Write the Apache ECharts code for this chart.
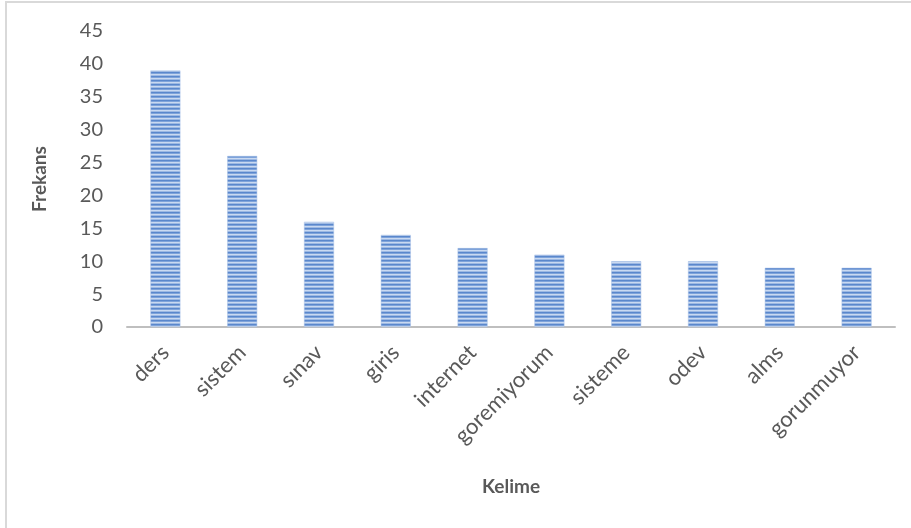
<!DOCTYPE html>
<html>
<head>
<meta charset="utf-8">
<script src="https://cdn.jsdelivr.net/npm/echarts@6/dist/echarts.min.js"></script>
<style>
  html, body { margin: 0; padding: 0; background: #fff; }
  #frame { position: absolute; left: 5px; top: 1px; width: 920px; height: 540px;
           border-left: 2px solid #d9d9d9; border-top: 2px solid #d9d9d9; }
  #chart { position: absolute; left: 0; top: 0; width: 911px; height: 528px; }
</style>
</head>
<body>
<div id="frame"></div>
<div id="chart"></div>
<script>
const categories = ["ders", "sistem", "sınav", "giris", "internet", "goremiyorum", "sisteme", "odev", "alms", "gorunmuyor"];
const frequencies = [39, 26, 16, 14, 12, 11, 10, 10, 9, 9];

// horizontal stripes like the original fill
function stripePattern() {
  const c = document.createElement("canvas");
  c.width = 4;
  c.height = 4;
  const ctx = c.getContext("2d");
  const rows = ["#5a87cc", "#7ea3da", "#c9d9f1", "#9db9e3"];
  rows.forEach((col, i) => {
    ctx.fillStyle = col;
    ctx.fillRect(0, i, 4, 1);
  });
  return c;
}

const chart = echarts.init(document.getElementById("chart"), null, { renderer: "canvas" });
const labelFont = "Lato, 'Open Sans', sans-serif";

const option = {
  animation: false,
  textStyle: { fontFamily: labelFont },
  grid: { left: 127, right: 16, top: 31, bottom: 201 },
  xAxis: {
    type: "category",
    data: categories,
    name: "Kelime",
    nameLocation: "middle",
    nameGap: 150,
    nameTextStyle: { color: "#595959", fontSize: 19, fontWeight: "bold", fontFamily: labelFont },
    axisLine: { lineStyle: { color: "#bfbfbf", width: 2 } },
    axisTick: { show: false },
    axisLabel: { rotate: 45, color: "#595959", fontSize: 22, margin: 22, interval: 0, fontFamily: labelFont }
  },
  yAxis: {
    type: "value",
    min: 0,
    max: 45,
    interval: 5,
    name: "Frekans",
    nameLocation: "middle",
    nameGap: 78,
    nameTextStyle: { color: "#595959", fontSize: 19, fontWeight: "bold", fontFamily: labelFont },
    axisLine: { show: false },
    axisTick: { show: false },
    splitLine: { show: false },
    axisLabel: { color: "#595959", fontSize: 20, margin: 24, fontFamily: labelFont }
  },
  series: [{
    type: "bar",
    data: frequencies,
    barWidth: "39%",
    itemStyle: {
      color: { image: stripePattern(), repeat: "repeat" },
      borderColor: "#a9c1e6",
      borderWidth: 0.5
    }
  }]
};

chart.setOption(option);
</script>
</body>
</html>
